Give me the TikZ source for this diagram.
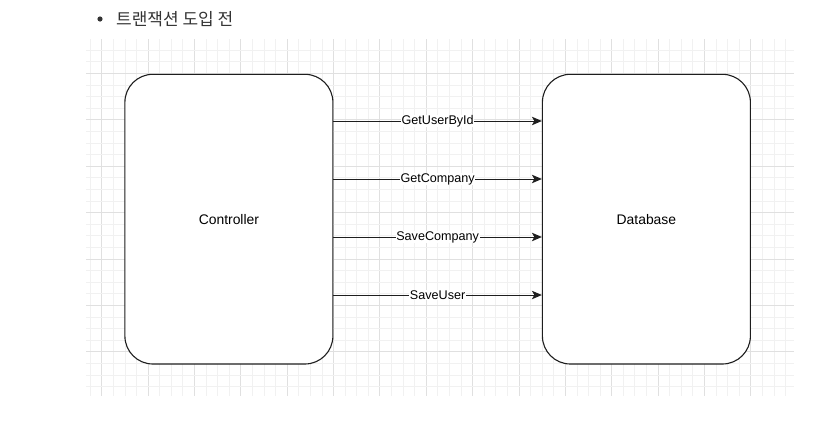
\documentclass[tikz,border=0pt]{standalone}
\usepackage{fontspec}
\setmainfont{Liberation Sans}
\newfontfamily\krfont{Noto Sans CJK KR}
\usetikzlibrary{arrows.meta,calc}
\definecolor{minorgrid}{HTML}{F1F1F1}
\definecolor{majorgrid}{HTML}{E0E0E0}
\definecolor{inkline}{HTML}{1E1E1E}
\definecolor{titleink}{HTML}{333333}
\tikzset{
  boxnode/.style={draw=inkline, fill=white, line width=1.1pt, rounded corners=28pt,
    minimum width=208pt, minimum height=289.7pt, inner sep=0pt,
    font=\fontsize{13.9}{16}\selectfont, text=black},
  callarrow/.style={draw=inkline, line width=1pt, -{Stealth[length=10pt,width=8.5pt,inset=2.5pt]}},
  calllabel/.style={fill=white, inner sep=0.6pt, font=\fontsize{12.6}{14}\selectfont, text=black},
}
\begin{document}
\begin{tikzpicture}[x=1pt,y=-1pt]
\useasboundingbox (0,0) rectangle (840,437);
% grid
\begin{scope}
  \clip (86,39.3) rectangle (794,396);
  \foreach \i in {-1,...,59}{
    \pgfmathtruncatemacro{\m}{mod(\i+4,4)}
    \ifnum\m=0
      \draw[majorgrid, line width=0.8pt] (101.7+11.59*\i,39.3) -- (101.7+11.59*\i,396);
    \else
      \draw[minorgrid, line width=0.7pt] (101.7+11.59*\i,39.3) -- (101.7+11.59*\i,396);
    \fi
  }
  \foreach \j in {-3,...,28}{
    \pgfmathtruncatemacro{\m}{mod(\j+4,4)}
    \ifnum\m=0
      \draw[majorgrid, line width=0.8pt] (86,73.3+11.6*\j) -- (794,73.3+11.6*\j);
    \else
      \draw[minorgrid, line width=0.7pt] (86,73.3+11.6*\j) -- (794,73.3+11.6*\j);
    \fi
  }
\end{scope}
% title
\fill[titleink] (100,19) circle (2.6pt);
\node[anchor=west, inner sep=0pt, text=titleink, font=\krfont\fontsize{17}{20}\selectfont] (title) at (116,19) {트랜잭션 도입 전};
% boxes
\node[boxnode] (ctrl) at (228.9,219.15) {Controller};
\node[boxnode] (db) at (646.4,219.15) {Database};
% arrows
\foreach \yy/\lab/\nm in {121/GetUserById/a1, 179/GetCompany/a2, 237/SaveCompany/a3, 295/SaveUser/a4}{
  \coordinate (\nm s) at (ctrl.east |- 0,\yy);
  \coordinate (\nm e) at (db.west |- 0,\yy);
  \draw[callarrow] (\nm s) -- node[calllabel] (\nm l) {\lab} (\nm e);
}
\end{tikzpicture}
\end{document}
